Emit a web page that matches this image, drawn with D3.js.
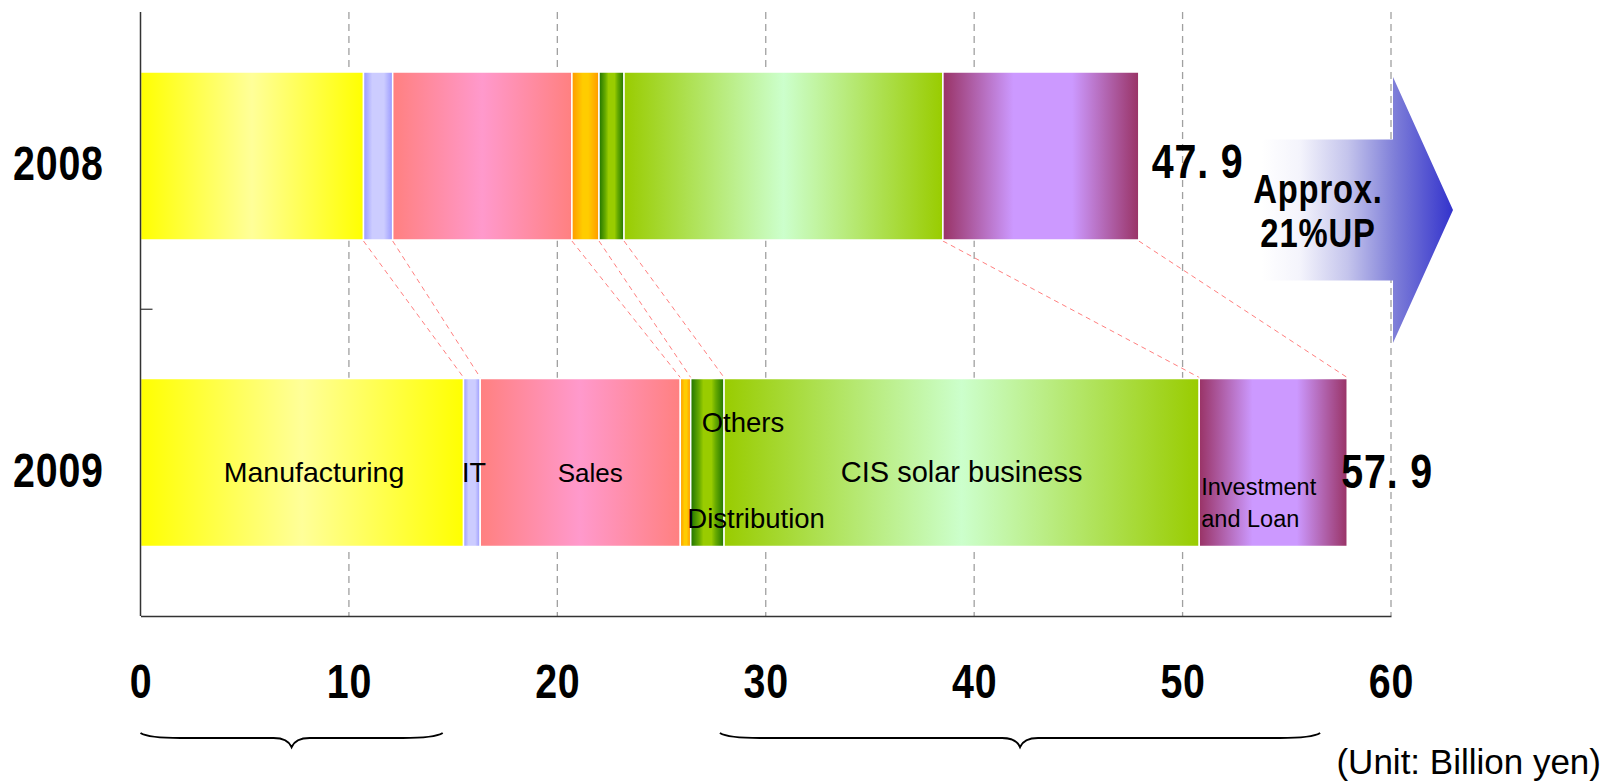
<!DOCTYPE html>
<html>
<head>
<meta charset="utf-8">
<script src="https://cdn.jsdelivr.net/npm/d3@7"></script>
<style>
  html, body { margin: 0; padding: 0; background: #fff; }
  svg { display: block; }
</style>
</head>
<body>
<svg id="chart" width="1604" height="784"></svg>
<script>
// ---------- data ----------
const categories = ["Manufacturing", "IT", "Sales", "Distribution", "Others", "CIS solar business", "Investment and Loan"];
const years = ["2008", "2009"];
const values2008 = [10.7, 1.4, 8.6, 1.3, 1.2, 15.3, 9.4];
const values2009 = [15.5, 0.8, 9.6, 0.5, 1.6, 22.8, 7.1];
const totals = [47.9, 57.9];
const totalLabels = ["47. 9", "57. 9"];
const xTicks = [0, 10, 20, 30, 40, 50, 60];
const braceRanges = [[0, 14.5], [27.8, 56.6]];
const arrowText = ["Approx.", "21%UP"];
const unitText = "(Unit: Billion yen)";

// ---------- styles ----------
const gradStops = {
  "Manufacturing": [[0, "#ffff00"], [0.5, "#ffff99"], [1, "#ffff00"]],
  "IT": [[0, "#9999ff"], [0.3, "#ccccff"], [0.7, "#ccccff"], [1, "#9999ff"]],
  "Sales": [[0, "#ff8080"], [0.5, "#ff99cc"], [1, "#ff8080"]],
  "Distribution": [[0, "#ff9900"], [0.4, "#ffcc00"], [0.6, "#ffcc00"], [1, "#ff9900"]],
  "Others": [[0, "#1f7300"], [0.25, "#66aa00"], [0.38, "#99cc00"], [0.62, "#99cc00"], [0.75, "#66aa00"], [1, "#1f7300"]],
  "CIS solar business": [[0, "#99cc00"], [0.5, "#ccffcc"], [1, "#99cc00"]],
  "Investment and Loan": [[0, "#993366"], [0.36, "#cc99ff"], [0.66, "#cc99ff"], [1, "#993366"]]
};
const numFont = "'Liberation Sans', Arial, sans-serif";
const txtFont = "'Liberation Sans', Arial, sans-serif";
const NARROW = 0.82;

const svg = d3.select("#chart");
const defs = svg.append("defs");

categories.forEach((c, i) => {
  const g = defs.append("linearGradient").attr("id", "g" + i)
    .attr("x1", "0").attr("x2", "1").attr("y1", "0").attr("y2", "0");
  gradStops[c].forEach(s => g.append("stop").attr("offset", s[0]).attr("stop-color", s[1]));
});
const ag = defs.append("linearGradient").attr("id", "arrowGrad")
  .attr("x1", "0").attr("x2", "1").attr("y1", "0").attr("y2", "0");
[[0, "#ffffff"], [0.2, "#f4f4fc"], [0.45, "#c4c4ec"], [0.7, "#7d7dd8"], [1, "#3333cc"]]
  .forEach(s => ag.append("stop").attr("offset", s[0]).attr("stop-color", s[1]));

// narrow bold text helper (condensed via horizontal scale)
function narrowText(parent, tx, ty, str, size, anchor) {
  return parent.append("text")
    .attr("transform", `translate(${tx},${ty}) scale(${NARROW},1)`)
    .attr("text-anchor", anchor || "start")
    .attr("font-family", numFont).attr("font-weight", "bold").attr("font-size", size)
    .attr("letter-spacing", 1)
    .attr("fill", "#000")
    .text(str);
}

// ---------- scales ----------
const x = d3.scaleLinear().domain([0, 60]).range([140.5, 1391]);
const y = d3.scalePoint().domain(years).range([156, 462.5]);
const barH = 168;
const axisTop = 12, axisBottom = 616;

// gridlines
svg.append("g").selectAll("line").data(xTicks.filter(t => t > 0)).join("line")
  .attr("x1", d => x(d)).attr("x2", d => x(d))
  .attr("y1", axisTop).attr("y2", axisBottom)
  .attr("stroke", "#a0a0a0").attr("stroke-width", 1.3).attr("stroke-dasharray", "7,5");

// stacked data
const series = [values2008, values2009].map((vals, yi) => {
  let acc = 0;
  return vals.map((v, ci) => {
    const d = { year: years[yi], cat: categories[ci], ci, x0: acc, x1: acc + v };
    acc += v;
    return d;
  });
});

// connector lines (bottom of 2008 -> top of 2009) at segment boundaries
const connectors = [];
for (let ci = 1; ci < categories.length; ci++) connectors.push([series[0][ci].x0, series[1][ci].x0]);
connectors.push([totals[0], totals[1]]);
svg.append("g").selectAll("line").data(connectors).join("line")
  .attr("x1", d => x(d[0])).attr("y1", y("2008") + barH / 2 + 1)
  .attr("x2", d => x(d[1])).attr("y2", y("2009") - barH / 2 - 1)
  .attr("stroke", "#ff7f7f").attr("stroke-width", 1).attr("stroke-dasharray", "5,4");

// bars
series.forEach(row => {
  svg.append("g").selectAll("rect").data(row).join("rect")
    .attr("x", d => x(d.x0)).attr("width", d => x(d.x1) - x(d.x0))
    .attr("y", d => y(d.year) - barH / 2).attr("height", barH)
    .attr("fill", d => "url(#g" + d.ci + ")")
    .attr("stroke", "#ffffff").attr("stroke-width", 1.5);
});

// axes
svg.append("line").attr("x1", x(0)).attr("x2", x(0)).attr("y1", axisTop).attr("y2", axisBottom)
  .attr("stroke", "#333").attr("stroke-width", 1.5);
svg.append("line").attr("x1", x(0)).attr("x2", x(0) + 12)
  .attr("y1", (y("2008") + y("2009")) / 2).attr("y2", (y("2008") + y("2009")) / 2)
  .attr("stroke", "#333").attr("stroke-width", 1.2);

const xAxis = svg.append("g").attr("transform", `translate(0,${axisBottom})`)
  .call(d3.axisBottom(x).tickValues(xTicks).tickSize(0).tickSizeOuter(0).tickPadding(48));
xAxis.select(".domain").attr("stroke", "#333").attr("stroke-width", 1.5);
xAxis.selectAll("text").attr("font-family", numFont).attr("font-weight", "bold")
  .attr("font-size", 48).attr("fill", "#000").attr("letter-spacing", 1)
  .attr("transform", `scale(${NARROW},1)`);

// year labels
const yl = svg.append("g");
years.forEach(yr => narrowText(yl, 13, y(yr) + 24, yr, 48));

// total labels
const totalDx = [13, -6];
const tl = svg.append("g");
totals.forEach((t, i) => narrowText(tl, x(t) + totalDx[i], y(years[i]) + 22 + i * 3, totalLabels[i], 48));

// segment labels on 2009 bar
const yc = y("2009");
const row9 = series[1];
const lab = svg.append("g").attr("font-family", txtFont).attr("fill", "#000");
function mid(d) { return x((d.x0 + d.x1) / 2); }
lab.append("text").attr("x", mid(row9[0]) + 12).attr("y", yc + 19).attr("text-anchor", "middle").attr("font-size", 28.5).text(categories[0]);
lab.append("text").attr("x", mid(row9[1]) + 2).attr("y", yc + 19).attr("text-anchor", "middle").attr("font-size", 27).text(categories[1]);
lab.append("text").attr("x", mid(row9[2]) + 10).attr("y", yc + 19).attr("text-anchor", "middle").attr("font-size", 26).text(categories[2]);
lab.append("text").attr("x", x(row9[3].x0) + 7).attr("y", yc + 65).attr("font-size", 27.5).text(categories[3]);
lab.append("text").attr("x", x(row9[4].x0) + 11).attr("y", yc - 31).attr("font-size", 27.5).text(categories[4]);
lab.append("text").attr("x", mid(row9[5])).attr("y", yc + 19).attr("text-anchor", "middle").attr("font-size", 29).text(categories[5]);
lab.append("text").attr("x", x(row9[6].x0) + 2).attr("y", yc + 32).attr("font-size", 23.5).text("Investment");
lab.append("text").attr("x", x(row9[6].x0) + 2).attr("y", yc + 64).attr("font-size", 23.5).text("and Loan");

// arrow
const ax0 = x(53.8), axH = x(60) + 2, axTip = x(60) + 62;
const ayc = 210, shaftHalf = 70.5, headHalf = 133;
svg.append("path")
  .attr("d", `M${ax0},${ayc - shaftHalf} L${axH},${ayc - shaftHalf} L${axH},${ayc - headHalf} L${axTip},${ayc} L${axH},${ayc + headHalf} L${axH},${ayc + shaftHalf} L${ax0},${ayc + shaftHalf} Z`)
  .attr("fill", "url(#arrowGrad)");
const at = svg.append("g");
arrowText.forEach((t, i) => narrowText(at, 1318, 203 + i * 44, t, 40, "middle"));

// braces
function bracePath(a, b) {
  const x1 = x(a), x2 = x(b), cx = (x1 + x2) / 2;
  const yt = 733, ylv = 738, yb = 747;
  return `M${x1},${yt} Q${x1 + 8},${ylv} ${x1 + 40},${ylv} L${cx - 18},${ylv} Q${cx - 4},${ylv} ${cx},${yb} ` +
         `Q${cx + 4},${ylv} ${cx + 18},${ylv} L${x2 - 40},${ylv} Q${x2 - 8},${ylv} ${x2},${yt}`;
}
svg.append("g").selectAll("path").data(braceRanges).join("path")
  .attr("d", d => bracePath(d[0], d[1]))
  .attr("fill", "none").attr("stroke", "#000").attr("stroke-width", 2);

// unit
svg.append("text").attr("x", 1601).attr("y", 774).attr("text-anchor", "end")
  .attr("font-family", txtFont).attr("font-size", 35).text(unitText);
</script>
</body>
</html>
